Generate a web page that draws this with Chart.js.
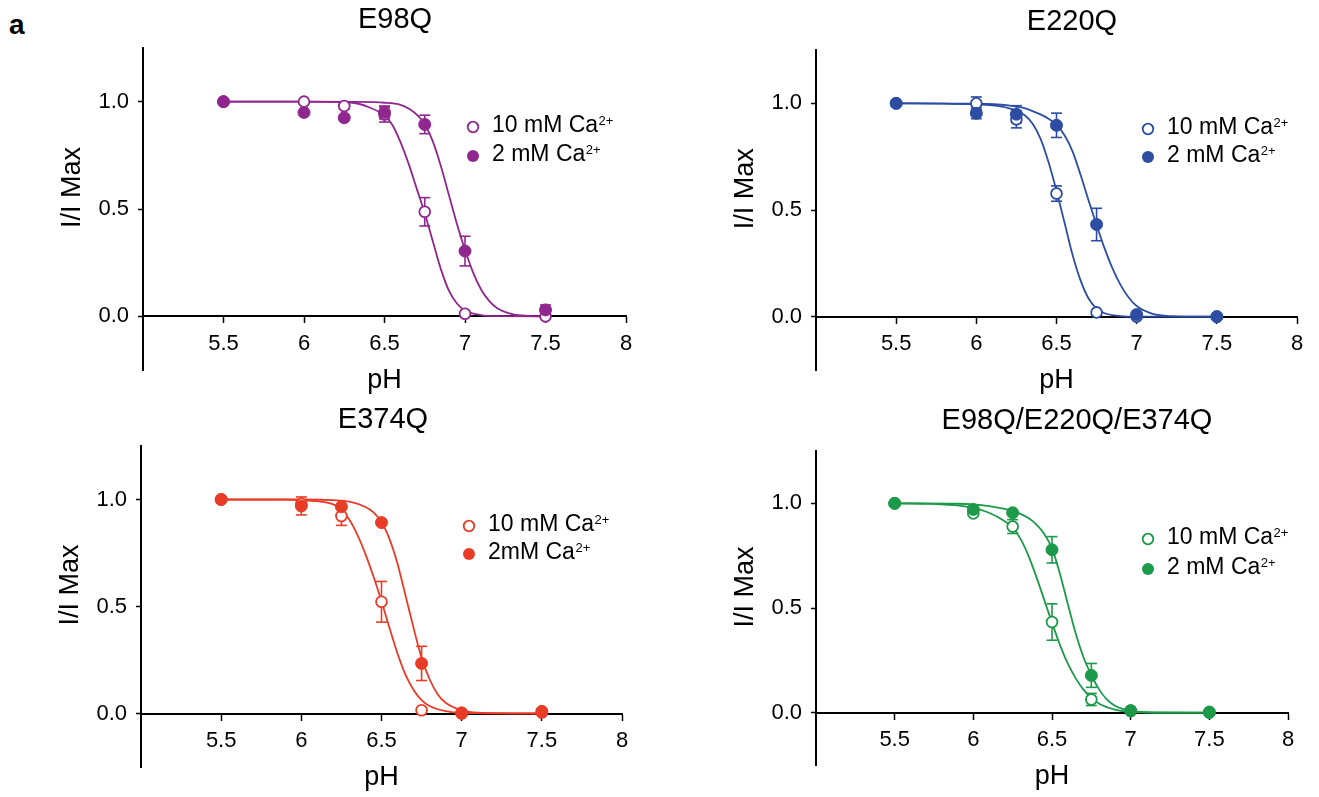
<!DOCTYPE html>
<html>
<head>
<meta charset="utf-8">
<script src="https://cdn.jsdelivr.net/npm/chart.js@4.4.1/dist/chart.umd.min.js"></script>
<style>
  html, body { margin: 0; padding: 0; background: #fff; }
  body { width: 1319px; height: 797px; position: relative; overflow: hidden; }
  canvas { position: absolute; }
  #tag { position: absolute; left: 9px; top: 11px; font: bold 28px "Liberation Sans", Arial, sans-serif; line-height: 28px; }
</style>
</head>
<body>
<div id="tag">a</div>
<canvas id="c1" width="660" height="400" style="left:0;top:0"></canvas>
<canvas id="c2" width="649" height="400" style="left:670px;top:0"></canvas>
<canvas id="c3" width="660" height="397" style="left:0;top:400px"></canvas>
<canvas id="c4" width="649" height="397" style="left:670px;top:400px"></canvas>
<script>
"use strict";

// ---- data ----
const phValues = [5.5, 6, 6.25, 6.5, 6.75, 7, 7.5];
const xTicks = [5.5, 6, 6.5, 7, 7.5, 8];
const xTickLabels = ["5.5", "6", "6.5", "7", "7.5", "8"];
const yTicks = [0, 0.5, 1];
const yTickLabels = ["0.0", "0.5", "1.0"];
const titles = ["E98Q", "E220Q", "E374Q", "E98Q/E220Q/E374Q"];
const legendLabels = [
  ["10 mM Ca2+", "2 mM Ca2+"],
  ["10 mM Ca2+", "2 mM Ca2+"],
  ["10 mM Ca2+", "2mM Ca2+"],
  ["10 mM Ca2+", "2 mM Ca2+"],
];

// E98Q
const e98q10 = [1.0, 1.0, 0.98, 0.94, 0.487, 0.012, 0.0];
const e98q10Err = [0, 0, 0.015, 0.035, 0.066, 0, 0];
const e98q2 = [1.0, 0.95, 0.925, 0.95, 0.894, 0.304, 0.03];
const e98q2Err = [0, 0, 0.01, 0.03, 0.043, 0.069, 0.023];
const e98qFit10X = [5.5, 6.0, 6.3, 6.4, 6.5, 6.55, 6.6, 6.65, 6.7, 6.75, 6.8, 6.85, 6.9, 6.95, 7.0, 7.1, 7.2, 7.5];
const e98qFit10Y = [1, 1, 0.995, 0.975, 0.935, 0.89, 0.81, 0.71, 0.595, 0.48, 0.35, 0.22, 0.12, 0.06, 0.027, 0.006, 0.001, 0];
const e98qFit2X = [5.5, 6.0, 6.3, 6.5, 6.6, 6.65, 6.7, 6.75, 6.8, 6.85, 6.9, 6.95, 7.0, 7.05, 7.1, 7.15, 7.2, 7.3, 7.4, 7.5];
const e98qFit2Y = [1, 1, 0.999, 0.995, 0.985, 0.968, 0.94, 0.895, 0.815, 0.70, 0.565, 0.43, 0.31, 0.205, 0.125, 0.072, 0.038, 0.009, 0.002, 0];

// E220Q
const e220q10 = [1.0, 1.0, 0.925, 0.577, 0.02, 0.0, 0.0];
const e220q10Err = [0, 0.03, 0.04, 0.036, 0, 0, 0];
const e220q2 = [1.0, 0.953, 0.949, 0.897, 0.432, 0.01, 0.0];
const e220q2Err = [0, 0.025, 0.04, 0.057, 0.076, 0, 0];
const e220qFit10X = [5.5, 5.8, 6.0, 6.1, 6.2, 6.25, 6.3, 6.35, 6.4, 6.45, 6.5, 6.55, 6.6, 6.65, 6.7, 6.75, 6.8, 6.9, 7.0, 7.5];
const e220qFit10Y = [1, 0.999, 0.995, 0.99, 0.978, 0.966, 0.945, 0.905, 0.835, 0.725, 0.59, 0.441, 0.29, 0.17, 0.085, 0.038, 0.016, 0.003, 0.0005, 0];
const e220qFit2X = [5.5, 6.0, 6.2, 6.3, 6.4, 6.45, 6.5, 6.55, 6.6, 6.65, 6.7, 6.75, 6.8, 6.85, 6.9, 6.95, 7.0, 7.1, 7.2, 7.5];
const e220qFit2Y = [1, 0.998, 0.99, 0.978, 0.948, 0.928, 0.9, 0.85, 0.775, 0.665, 0.545, 0.43, 0.32, 0.225, 0.148, 0.09, 0.05, 0.013, 0.003, 0];

// E374Q
const e374q10 = [1.0, 0.98, 0.923, 0.522, 0.015, 0.0, 0.005];
const e374q10Err = [0, 0, 0.044, 0.095, 0, 0, 0];
const e374q2 = [1.0, 0.97, 0.966, 0.892, 0.234, 0.003, 0.01];
const e374q2Err = [0, 0.042, 0, 0, 0.08, 0, 0];
const e374qFit10X = [5.5, 5.9, 6.0, 6.1, 6.2, 6.25, 6.3, 6.35, 6.4, 6.45, 6.5, 6.55, 6.6, 6.65, 6.7, 6.75, 6.8, 6.9, 7.0, 7.5];
const e374qFit10Y = [1, 0.999, 0.997, 0.992, 0.977, 0.952, 0.905, 0.835, 0.745, 0.64, 0.525, 0.40, 0.28, 0.18, 0.11, 0.063, 0.035, 0.011, 0.003, 0];
const e374qFit2X = [5.5, 6.0, 6.2, 6.3, 6.4, 6.45, 6.5, 6.55, 6.6, 6.65, 6.7, 6.75, 6.8, 6.85, 6.9, 7.0, 7.1, 7.5];
const e374qFit2Y = [1, 1, 0.997, 0.99, 0.965, 0.94, 0.895, 0.815, 0.70, 0.55, 0.40, 0.26, 0.16, 0.09, 0.05, 0.015, 0.004, 0];

// E98Q/E220Q/E374Q
const tripleQ10 = [1.0, 0.952, 0.889, 0.433, 0.063, 0.008, 0.0];
const tripleQ10Err = [0, 0, 0.033, 0.087, 0.029, 0, 0];
const tripleQ2 = [1.0, 0.971, 0.955, 0.778, 0.178, 0.01, 0.003];
const tripleQ2Err = [0, 0, 0, 0.063, 0.057, 0, 0];
const tripleQFit10X = [5.5, 5.75, 5.9, 6.0, 6.1, 6.2, 6.25, 6.3, 6.35, 6.4, 6.45, 6.5, 6.55, 6.6, 6.65, 6.7, 6.75, 6.8, 6.9, 7.0, 7.2, 7.5];
const tripleQFit10Y = [1, 0.997, 0.99, 0.978, 0.955, 0.915, 0.885, 0.83, 0.75, 0.65, 0.54, 0.43, 0.325, 0.235, 0.165, 0.11, 0.072, 0.043, 0.015, 0.004, 0.0005, 0];
const tripleQFit2X = [5.5, 5.9, 6.0, 6.1, 6.2, 6.3, 6.35, 6.4, 6.45, 6.5, 6.55, 6.6, 6.65, 6.7, 6.75, 6.8, 6.85, 6.9, 7.0, 7.1, 7.5];
const tripleQFit2Y = [1, 0.998, 0.995, 0.987, 0.973, 0.95, 0.93, 0.9, 0.855, 0.785, 0.665, 0.52, 0.38, 0.265, 0.18, 0.11, 0.062, 0.033, 0.008, 0.002, 0];

// ---- panel layout (pixels, canvas-relative) ----
const FONT = '"Liberation Sans", Arial, Helvetica, sans-serif';
const panels = [
  { canvas: "c1", color: "#90278e", y10: e98q10, e10: e98q10Err, y2: e98q2, e2: e98q2Err,
    f10x: e98qFit10X, f10y: e98qFit10Y, f2x: e98qFit2X, f2y: e98qFit2Y,
    axisW: 143, padR: 34, padT: 48, padB: 30, titleX: 395, titleY: 20, legX: 473, legY: 127, legGap: 29 },
  { canvas: "c2", color: "#2d4da3", y10: e220q10, e10: e220q10Err, y2: e220q2, e2: e220q2Err,
    f10x: e220qFit10X, f10y: e220qFit10Y, f2x: e220qFit2X, f2y: e220qFit2Y,
    axisW: 146, padR: 22, padT: 50, padB: 30, titleX: 402, titleY: 22, legX: 478, legY: 129, legGap: 28 },
  { canvas: "c3", color: "#e93c27", y10: e374q10, e10: e374q10Err, y2: e374q2, e2: e374q2Err,
    f10x: e374qFit10X, f10y: e374qFit10Y, f2x: e374qFit2X, f2y: e374qFit2Y,
    axisW: 141, padR: 38, padT: 46, padB: 30, titleX: 383, titleY: 20, legX: 469, legY: 126, legGap: 28 },
  { canvas: "c4", color: "#1c9a49", y10: tripleQ10, e10: tripleQ10Err, y2: tripleQ2, e2: tripleQ2Err,
    f10x: tripleQFit10X, f10y: tripleQFit10Y, f2x: tripleQFit2X, f2y: tripleQFit2Y,
    axisW: 146, padR: 31, padT: 51, padB: 32, titleX: 407, titleY: 21, legX: 478, legY: 139, legGap: 30 },
];

function toXY(xs, ys) {
  return xs.map((x, i) => ({ x: x, y: ys[i] }));
}

// error bars: one broken line per series, caps drawn as 'line' point style
function toErrXY(xs, ys, errs) {
  const out = [];
  xs.forEach((x, i) => {
    if (errs[i] > 0) {
      out.push({ x: x, y: ys[i] - errs[i] });
      out.push({ x: x, y: ys[i] + errs[i] });
      out.push({ x: x, y: null });
    }
  });
  return out;
}

const panelText = {
  id: "panelText",
  afterDraw(chart, args, opts) {
    const ctx = chart.ctx;
    const xs = chart.scales.x;
    const ys = chart.scales.y;
    ctx.save();
    ctx.fillStyle = "#000";
    ctx.textAlign = "center";
    ctx.textBaseline = "middle";

    ctx.font = "29px " + FONT;
    ctx.fillText(opts.title, opts.titleX, opts.titleY);

    ctx.font = "27px " + FONT;
    ctx.fillText("pH", (xs.left + xs.right) / 2, ys.getPixelForValue(0) + 64);

    ctx.save();
    ctx.translate(xs.left - 70, ys.getPixelForValue(0.6));
    ctx.rotate(-Math.PI / 2);
    ctx.fillText("I/I Max", 0, 0);
    ctx.restore();

    // legend
    opts.labels.forEach((label, i) => {
      const mx = opts.legX;
      const my = opts.legY + i * opts.legGap;
      ctx.beginPath();
      ctx.arc(mx, my, i === 0 ? 5.3 : 6, 0, Math.PI * 2);
      if (i === 0) {
        ctx.fillStyle = "#fff";
        ctx.fill();
        ctx.lineWidth = 1.8;
        ctx.strokeStyle = opts.color;
        ctx.stroke();
      } else {
        ctx.fillStyle = opts.color;
        ctx.fill();
      }
      const main = label.slice(0, -2);
      const sup = label.slice(-2);
      ctx.fillStyle = "#000";
      ctx.textAlign = "left";
      ctx.font = "23px " + FONT;
      ctx.fillText(main, mx + 19, my - 1);
      const w = ctx.measureText(main).width;
      ctx.font = "13px " + FONT;
      ctx.fillText(sup, mx + 19 + w + 0.5, my - 6);
    });
    ctx.restore();
  },
};

function renderPanel(p, idx) {
  const datasets = [
    { label: legendLabels[idx][1], data: toXY(phValues, p.y2), showLine: false,
      pointRadius: 6, pointBackgroundColor: p.color, pointBorderColor: p.color, pointBorderWidth: 1, order: 0 },
    { label: legendLabels[idx][0], data: toXY(phValues, p.y10), showLine: false,
      pointRadius: 5.4, pointBackgroundColor: "#fff", pointBorderColor: p.color, pointBorderWidth: 1.8, order: 1 },
    { data: toErrXY(phValues, p.y2, p.e2), showLine: true, spanGaps: false, borderColor: p.color, borderWidth: 1.6,
      pointStyle: "line", pointRadius: 5.5, pointBorderColor: p.color, pointBorderWidth: 1.6, order: 2 },
    { data: toErrXY(phValues, p.y10, p.e10), showLine: true, spanGaps: false, borderColor: p.color, borderWidth: 1.6,
      pointStyle: "line", pointRadius: 5.5, pointBorderColor: p.color, pointBorderWidth: 1.6, order: 3 },
    { data: toXY(p.f2x, p.f2y), showLine: true, borderColor: p.color, borderWidth: 1.8,
      pointRadius: 0, cubicInterpolationMode: "monotone", order: 4 },
    { data: toXY(p.f10x, p.f10y), showLine: true, borderColor: p.color, borderWidth: 1.8,
      pointRadius: 0, cubicInterpolationMode: "monotone", order: 5 },
  ];

  new Chart(document.getElementById(p.canvas), {
    type: "scatter",
    data: { datasets: datasets },
    plugins: [panelText],
    options: {
      responsive: false,
      animation: false,
      events: [],
      layout: { padding: { left: 0, right: p.padR, top: p.padT, bottom: p.padB } },
      plugins: {
        legend: { display: false },
        tooltip: { enabled: false },
        panelText: {
          title: titles[idx], titleX: p.titleX, titleY: p.titleY,
          labels: legendLabels[idx], color: p.color,
          legX: p.legX, legY: p.legY, legGap: p.legGap,
        },
      },
      scales: {
        x: {
          type: "linear",
          position: { y: 0 },
          min: 5, max: 8,
          afterBuildTicks: (scale) => { scale.ticks = xTicks.map((v) => ({ value: v })); },
          ticks: {
            callback: (v) => xTickLabels[xTicks.indexOf(v)],
            color: "#000", font: { family: FONT, size: 22 }, padding: 8,
            maxRotation: 0, autoSkip: false,
          },
          grid: { drawOnChartArea: false, drawTicks: true, tickLength: 6, tickColor: "#000", tickWidth: 1.5 },
          border: { display: true, color: "#000", width: 2 },
        },
        y: {
          type: "linear",
          position: "left",
          min: -0.25, max: 1.25,
          afterBuildTicks: (scale) => { scale.ticks = yTicks.map((v) => ({ value: v })); },
          afterFit: (scale) => { scale.width = p.axisW; },
          ticks: {
            callback: (v) => yTickLabels[yTicks.indexOf(v)],
            color: "#000", font: { family: FONT, size: 22 }, padding: 9,
          },
          grid: { drawOnChartArea: false, drawTicks: true, tickLength: 5, tickColor: "#000", tickWidth: 1.5 },
          border: { display: true, color: "#000", width: 2 },
        },
      },
    },
  });
}

panels.forEach(renderPanel);
</script>
</body>
</html>
